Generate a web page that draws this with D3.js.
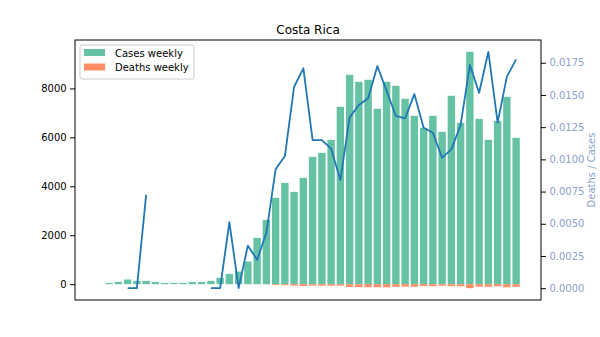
<!DOCTYPE html>
<html>
<head>
<meta charset="utf-8">
<script src="https://cdn.jsdelivr.net/npm/d3@7"></script>
<style>
  html, body { margin: 0; padding: 0; background: #fff; }
  svg { display: block; font-family: "DejaVu Sans", sans-serif; }
</style>
</head>
<body>
<svg id="chart" width="600" height="337"></svg>
<script>
// ---- data (weekly, index = week) ----
const weeks = d3.range(46);
const casesWeekly = [0, 50, 90, 190, 135, 135, 90, 50, 50, 50, 90, 90, 135, 260, 420, 515,
  925, 1893, 2630, 3528, 4141, 3773, 4346, 5204, 5368, 5899, 7249, 8557, 8271, 8353,
  7167, 8271, 8107, 7576, 6881, 6390, 6881, 6226, 7699, 6595, 9496, 6758, 5899, 6676, 7658, 5981];
const deathsWeekly = [0, 0, 0, 0, 0, 1, 0, 0, 0, 0, 0, 0, 0, 0, 2, 0,
  3, 4, 11, 33, 42, 59, 74, 60, 62, 64, 61, 113, 118, 123,
  124, 127, 108, 100, 104, 80, 83, 63, 83, 84, 164, 103, 108, 86, 126, 106];
const deathRatio = [null, null, null, 0, 0, 0.00724, null, null, null, null, null, null, 0, 0, 0.00512, 0,
  0.0033, 0.0022, 0.0043, 0.00923, 0.01026, 0.01564, 0.01707, 0.0115, 0.0115, 0.01083, 0.0084, 0.01326, 0.01422, 0.01474,
  0.01724, 0.01531, 0.01337, 0.01319, 0.01507, 0.01246, 0.01207, 0.01013, 0.01078, 0.01267, 0.01732, 0.01517, 0.01835, 0.01285, 0.01642, 0.01776];
const leftTicks = [0, 2000, 4000, 6000, 8000];
const rightTicks = [0, 0.0025, 0.005, 0.0075, 0.01, 0.0125, 0.015, 0.0175];
const title = "Costa Rica";
const legendLabels = ["Cases weekly", "Deaths weekly"];
const rightLabel = "Deaths / Cases";

// ---- layout ----
const L = 75, R = 541, T = 40, B = 300;
const colCases = "#66c2a5", colDeaths = "#fc8d62", colLine = "#1f77b4", colRight = "#8da0cb";
const svg = d3.select("#chart");

function padded(lo, hi) { const m = (hi - lo) * 0.05; return [lo - m, hi + m]; }

const n = weeks.length;
const xs = d3.scaleLinear().domain(padded(-0.4, n - 1 + 0.4)).range([L, R]);
const bw = xs(0.8) - xs(0);
const yL = d3.scaleLinear().domain(padded(-d3.max(deathsWeekly), d3.max(casesWeekly))).range([B, T]);
const yR = d3.scaleLinear().domain(padded(0, d3.max(deathRatio.filter(v => v != null)))).range([B, T]);

// bars
svg.append("g").selectAll("rect.c").data(weeks).join("rect")
  .attr("x", i => xs(i) - bw / 2).attr("width", bw)
  .attr("y", i => yL(casesWeekly[i])).attr("height", i => yL(0) - yL(casesWeekly[i]))
  .attr("fill", colCases);
svg.append("g").selectAll("rect.d").data(weeks).join("rect")
  .attr("x", i => xs(i) - bw / 2).attr("width", bw)
  .attr("y", yL(0)).attr("height", i => yL(-deathsWeekly[i]) - yL(0))
  .attr("fill", colDeaths);

// line
const line = d3.line().defined(i => deathRatio[i] != null)
  .x(i => xs(i)).y(i => yR(deathRatio[i]));
svg.append("path").datum(weeks).attr("d", line)
  .attr("fill", "none").attr("stroke", colLine).attr("stroke-width", 1.8)
  .attr("stroke-linejoin", "round");

// left axis
const axL = svg.append("g").attr("transform", `translate(${L},0)`)
  .call(d3.axisLeft(yL).tickValues(leftTicks).tickSize(4.9).tickPadding(3.5).tickFormat(d3.format("d")));
axL.select(".domain").remove();
axL.selectAll("text").attr("font-size", 10).attr("fill", "#000").attr("font-family", "DejaVu Sans");

// right axis
const axR = svg.append("g").attr("transform", `translate(${R},0)`)
  .call(d3.axisRight(yR).tickValues(rightTicks).tickSize(4.9).tickPadding(3.5).tickFormat(d3.format(".4f")));
axR.select(".domain").remove();
axR.selectAll("line").attr("stroke", "#000");
axR.selectAll("text").attr("font-size", 10).attr("fill", colRight).attr("font-family", "DejaVu Sans");

// frame
svg.append("rect").attr("x", L).attr("y", T).attr("width", R - L).attr("height", B - T)
  .attr("fill", "none").attr("stroke", "#000").attr("stroke-width", 1);

// title
svg.append("text").attr("x", (L + R) / 2).attr("y", T - 6).attr("text-anchor", "middle")
  .attr("font-size", 12).attr("fill", "#000").text(title);

// right label
svg.append("text").attr("transform", `translate(${595},${(T + B) / 2}) rotate(-90)`)
  .attr("text-anchor", "middle").attr("font-size", 10).attr("fill", colRight).text(rightLabel);

// legend
const lg = svg.append("g").attr("transform", `translate(${80},${45})`);
lg.append("rect").attr("width", 114).attr("height", 34).attr("rx", 2)
  .attr("fill", "#fff").attr("fill-opacity", 0.8).attr("stroke", "#ccc").attr("stroke-width", 1);
[colCases, colDeaths].forEach((c, k) => {
  lg.append("rect").attr("x", 4).attr("y", 4 + k * 14.5).attr("width", 21).attr("height", 7).attr("fill", c);
  lg.append("text").attr("x", 35).attr("y", 11.5 + k * 14.5).attr("font-size", 10).attr("fill", "#000")
    .text(legendLabels[k]);
});
</script>
</body>
</html>
